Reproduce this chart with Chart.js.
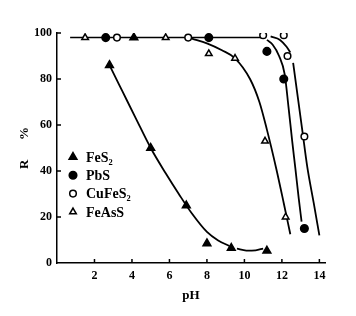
<!DOCTYPE html>
<html>
<head>
<meta charset="utf-8">
<script src="https://cdn.jsdelivr.net/npm/chart.js@4/dist/chart.umd.min.js"></script>
<style>
  html, body { margin: 0; padding: 0; background: #fff; }
  #wrap { width: 356px; height: 316px; }
</style>
</head>
<body>
<div id="wrap"><canvas id="chart"></canvas></div>
<script>
// подписи серий
const names = ['FeS₂', 'PbS', 'CuFeS₂', 'FeAsS'];

// точки измерений (pH, R %)
const fes2X = [2.8, 4.1, 5.0, 6.9, 8.0, 9.3, 11.2];
const fes2Y = [86, 98, 50, 25, 8.5, 6.5, 5.3];
const pbsX = [2.6, 8.1, 11.2, 12.1, 13.2];
const pbsY = [98, 98, 92, 80, 15];
const cuX = [3.2, 7.0, 11.0, 12.1, 12.3, 13.2];
const cuY = [98, 98, 99, 99, 90, 55];
const feasX = [1.5, 5.8, 8.1, 9.5, 11.1, 12.2];
const feasY = [98, 98, 91, 89, 53, 20];

// кривые
const topLineX = [0.7, 11.0];
const topLineY = [98, 98];
const fes2CurveX = [2.8, 3.5, 4.2, 5.0, 5.8, 6.5, 7.2, 8.0, 8.6, 9.2];
const fes2CurveY = [86, 74.5, 63, 50, 39, 30, 21.5, 13.5, 9.8, 7.4];
const fes2TailX = [9.6, 10.1, 10.6, 11.0];
const fes2TailY = [6.2, 5.4, 5.5, 6.3];
const feasCurveX = [7.2, 8.0, 8.8, 9.5, 10.3, 10.8, 11.2, 11.7, 12.1, 12.45];
const feasCurveY = [97.6, 95.5, 92.5, 89, 80, 70, 58, 41, 26, 12.5];
const pbsCurveX = [11.2, 11.5, 11.85, 12.15, 12.35, 12.55, 12.72, 12.9, 13.05];
const pbsCurveY = [97, 95, 90, 82, 68, 53, 41, 28, 18];
const cuArcX = [11.4, 11.9, 12.25, 12.45];
const cuArcY = [98.5, 97, 94, 91.5];
const cuCurveX = [12.6, 12.85, 13.1, 13.35, 13.7, 14.0];
const cuCurveY = [87, 72, 57, 42, 26, 12];

// оси
const xTicks = [2, 4, 6, 8, 10, 12, 14];
const yTicks = [0, 20, 40, 60, 80, 100];

const pts = (xs, ys) => xs.map((x, i) => ({ x: x, y: ys[i] }));

const markerStyle = [
    { pointStyle: 'triangle', fill: '#000', radius: 4.5 },
    { pointStyle: 'circle', fill: '#000', radius: 3.8 },
    { pointStyle: 'circle', fill: '#fff', radius: 3.3 },
    { pointStyle: 'triangle', fill: '#fff', radius: 3.8 }
];

function markers(label, xs, ys, st) {
    return {
        label: label,
        data: pts(xs, ys),
        showLine: false,
        pointStyle: st.pointStyle,
        pointRadius: st.radius,
        pointBackgroundColor: st.fill,
        pointBorderColor: '#000',
        pointBorderWidth: 1.5,
        order: 1
    };
}

function curve(xs, ys, w) {
    return {
        data: pts(xs, ys),
        showLine: true,
        borderColor: '#000',
        borderWidth: w || 1.8,
        pointRadius: 0,
        cubicInterpolationMode: 'monotone',
        fill: false,
        order: 2
    };
}

const markerSets = [
    markers(names[0], fes2X, fes2Y, markerStyle[0]),
    markers(names[1], pbsX, pbsY, markerStyle[1]),
    markers(names[2], cuX, cuY, markerStyle[2]),
    markers(names[3], feasX, feasY, markerStyle[3])
];

// легенда внутри поля графика
const inLegend = {
    id: 'inLegend',
    afterDatasetsDraw(chart) {
        const ctx = chart.ctx;
        const a = chart.chartArea;
        ctx.save();
        ctx.font = 'bold 14px "Liberation Serif", serif';
        ctx.textBaseline = 'middle';
        markerSets.forEach((ds, i) => {
            const st = markerStyle[i];
            const y = a.top + 124 + i * 18.3;
            ctx.fillStyle = st.fill;
            ctx.strokeStyle = '#000';
            ctx.lineWidth = 1.5;
            Chart.helpers.drawPoint(ctx, { pointStyle: st.pointStyle, radius: st.radius, borderWidth: 1.5, rotation: 0 }, a.left + 16, y);
            ctx.fillStyle = '#000';
            ctx.fillText(ds.label, a.left + 29, y + 1);
        });
        ctx.restore();
    }
};

// штрихи внутрь поля
const innerTicks = {
    id: 'innerTicks',
    afterDraw(chart) {
        const { ctx, chartArea: a, scales: { x, y } } = chart;
        ctx.save();
        ctx.strokeStyle = '#000';
        ctx.lineWidth = 1.5;
        ctx.beginPath();
        xTicks.forEach(v => {
            const px = x.getPixelForValue(v);
            ctx.moveTo(px, a.bottom);
            ctx.lineTo(px, a.bottom - 4);
        });
        yTicks.forEach(v => {
            if (v === 0) return;
            const py = y.getPixelForValue(v);
            ctx.moveTo(a.left, py);
            ctx.lineTo(a.left + 4, py);
        });
        ctx.stroke();
        ctx.restore();
    }
};

const tickFont = { family: '"Liberation Serif", serif', size: 12, weight: 'bold' };
const titleFont = { family: '"Liberation Serif", serif', size: 13, weight: 'bold' };

new Chart(document.getElementById('chart').getContext('2d'), {
    type: 'scatter',
    data: {
        datasets: markerSets.concat([
            curve(topLineX, topLineY, 1.5),
            curve(fes2CurveX, fes2CurveY),
            curve(fes2TailX, fes2TailY),
            curve(feasCurveX, feasCurveY),
            curve(pbsCurveX, pbsCurveY),
            curve(cuArcX, cuArcY),
            curve(cuCurveX, cuCurveY)
        ])
    },
    options: {
        responsive: true,
        maintainAspectRatio: false,
        animation: false,
        layout: { padding: { top: 33, right: 31, left: 0, bottom: 0 } },
        plugins: {
            legend: { display: false },
            tooltip: { enabled: false }
        },
        scales: {
            x: {
                type: 'linear',
                min: 0,
                max: 14.3,
                afterFit: s => { s.height = 53; },
                afterBuildTicks: s => { s.ticks = xTicks.map(v => ({ value: v })); },
                grid: { display: false, drawTicks: false },
                border: { display: true, color: '#000', width: 1.5 },
                ticks: { color: '#000', font: tickFont, padding: 6 },
                title: {
                    display: true,
                    text: 'pH',
                    color: '#000',
                    font: titleFont,
                    padding: { top: 0, bottom: 13 }
                }
            },
            y: {
                min: 0,
                max: 100,
                afterFit: s => { s.width = 57; },
                afterBuildTicks: s => { s.ticks = yTicks.map(v => ({ value: v })); },
                grid: { display: false, drawTicks: false },
                border: { display: true, color: '#000', width: 1.5 },
                ticks: { color: '#000', font: tickFont, padding: 5 },
                title: {
                    display: true,
                    text: 'R\u2003\u2002%',
                    color: '#000',
                    font: titleFont,
                    padding: { top: 17, bottom: 0 }
                }
            }
        }
    },
    plugins: [inLegend, innerTicks]
});
</script>
</body>
</html>
